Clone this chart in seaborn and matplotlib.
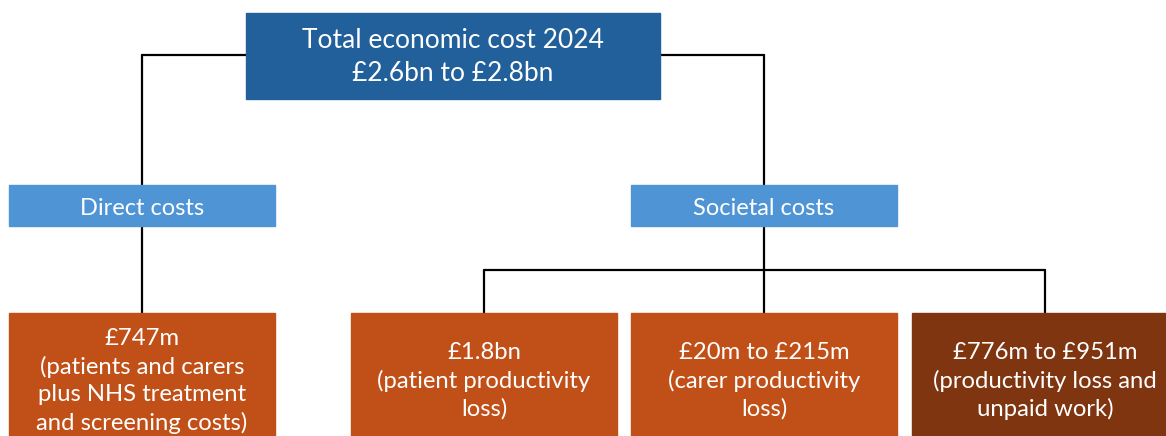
import matplotlib.pyplot as plt
import matplotlib.patches as mpatches
import seaborn as sns

# Data: cost breakdown tree
top_label = "Total economic cost 2024\n£2.6bn to £2.8bn"
branch_labels = ["Direct costs", "Societal costs"]
leaf_values = ["£747m", "£1.8bn", "£20m to £215m", "£776m to £951m"]
leaf_notes = [
    "(patients and carers\nplus NHS treatment\nand screening costs)",
    "(patient productivity\nloss)",
    "(carer productivity\nloss)",
    "(productivity loss and\nunpaid work)",
]
leaf_parent = [0, 1, 1, 1]

# Layout (pixel space)
top_box = (246, 13, 414, 86)
branch_x = [9, 631]
branch_y, branch_w, branch_h = 185, 266, 41
leaf_x = [9, 351, 631, 912]
leaf_y, leaf_w, leaf_h = 313, 266, 130
join_y = 270
top_line_y = 55

top_color = "#21609B"
branch_color = "#4F95D6"
leaf_colors = ["#C05018", "#C05018", "#C05018", "#7F3510"]

sns.set_theme(style="white")
plt.rcParams['font.family'] = ['Lato', 'DejaVu Sans']

fig = plt.figure(figsize=(11.66, 4.36), dpi=100)
ax = fig.add_axes([0, 0, 1, 1])
ax.set_xlim(0, 1166)
ax.set_ylim(436, 0)
ax.axis('off')

line_kw = dict(color='black', lw=1.6, zorder=1)

# connectors from top box to branches
bx_c = [x + branch_w / 2 for x in branch_x]
tx0, ty0, tw, th = top_box
ax.plot([bx_c[0], tx0], [top_line_y, top_line_y], **line_kw)
ax.plot([tx0 + tw, bx_c[1]], [top_line_y, top_line_y], **line_kw)
for c in bx_c:
    ax.plot([c, c], [top_line_y, branch_y], **line_kw)

# connectors from branches to leaves
lx_c = [x + leaf_w / 2 for x in leaf_x]
for b, c in enumerate(bx_c):
    kids = [lx_c[i] for i, p in enumerate(leaf_parent) if p == b]
    if len(kids) == 1:
        ax.plot([c, c], [branch_y + branch_h, leaf_y], **line_kw)
    else:
        ax.plot([c, c], [branch_y + branch_h, join_y], **line_kw)
        ax.plot([min(kids), max(kids)], [join_y, join_y], **line_kw)
        for k in kids:
            ax.plot([k, k], [join_y, leaf_y], **line_kw)

# boxes
ax.add_patch(mpatches.Rectangle((tx0, ty0), tw, th, color=top_color, zorder=2))
ax.text(tx0 + tw / 2, 57, top_label, ha='center', va='center',
        color='white', fontsize=19, linespacing=1.42, zorder=3)

for x, lab in zip(branch_x, branch_labels):
    ax.add_patch(mpatches.Rectangle((x, branch_y), branch_w, branch_h,
                                    color=branch_color, zorder=2))
    ax.text(x + branch_w / 2, branch_y + branch_h / 2 + 3, lab, ha='center',
            va='center', color='white', fontsize=17, zorder=3)

for x, v, n, col in zip(leaf_x, leaf_values, leaf_notes, leaf_colors):
    ax.add_patch(mpatches.Rectangle((x, leaf_y), leaf_w, leaf_h,
                                    color=col, zorder=2))
    ax.text(x + leaf_w / 2, 381, v + "\n" + n, ha='center', va='center',
            color='white', fontsize=17.2, linespacing=1.38, zorder=3)

fig.savefig("out.png", dpi=100)
